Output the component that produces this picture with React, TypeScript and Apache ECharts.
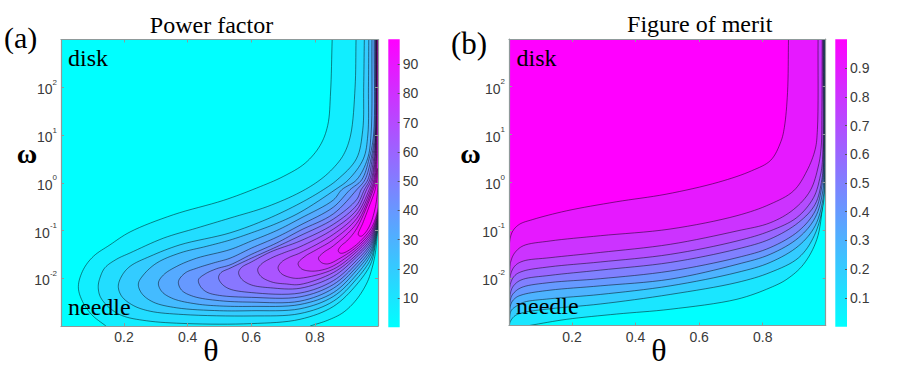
import React, { useEffect, useRef } from "react";
import * as echarts from "echarts";

// contour lines: [theta, log10(omega)]
const pf01Main = [[.143,-3],[.098,-2.76],[.067,-2.45],[.0565,-2.17],[.072,-1.82],[.104,-1.54],[.156,-1.30],[.219,-1.03],[.355,-.67],[.512,-.37],[.617,-.11],[.70,.13],[.769,.41],[.816,.78],[.84,1.2],[.849,1.9],[.854,3]];
const pf01Right = [[.9992,3],[.9992,-.3],[.9978,-.9],[.995,-1.15],[.989,-1.5],[.978,-1.82],[.963,-2.1],[.93,-2.45],[.888,-2.72],[.84,-2.88],[.785,-3]];
const pf02 = [[.9992,3],[.9992,-.3],[.9975,-.85],[.99,-1.28],[.975,-1.70],[.93,-2.14],[.858,-2.59],[.753,-2.86],[.6,-2.95],[.4,-2.95],[.27,-2.89],[.193,-2.78],[.151,-2.6],[.125,-2.38],[.119,-2.17],[.125,-1.98],[.14,-1.78],[.177,-1.6],[.219,-1.47],[.324,-1.16],[.428,-.95],[.533,-.74],[.65,-.5],[.753,-.2],[.816,.06],[.858,.31],[.89,.59],[.912,1],[.926,2],[.929,3]];
const pf03 = [[.9992,3],[.9992,-.3],[.9975,-.825],[.99,-1.22],[.975,-1.60],[.93,-2.02],[.858,-2.48],[.753,-2.74],[.6,-2.79],[.386,-2.76],[.282,-2.69],[.229,-2.57],[.193,-2.38],[.182,-2.17],[.193,-1.95],[.219,-1.75],[.282,-1.54],[.376,-1.3],[.533,-1.05],[.65,-.76],[.753,-.43],[.826,-.147],[.87,.063],[.93,.5],[.95,1.1],[.953,2],[.955,3]];
const pf04 = [[.9992,3],[.9992,-.3],[.9975,-.80],[.99,-1.17],[.975,-1.51],[.93,-1.93],[.858,-2.38],[.753,-2.64],[.6,-2.68],[.5,-2.68],[.366,-2.62],[.292,-2.50],[.256,-2.32],[.245,-2.12],[.261,-1.93],[.303,-1.68],[.376,-1.47],[.46,-1.33],[.533,-1.2],[.6,-1.05],[.68,-.85],[.753,-.62],[.863,-.147],[.905,.063],[.952,.5],[.966,1],[.968,2],[.969,3]];
const pf05 = [[.9992,3],[.9992,-.3],[.9975,-.775],[.99,-1.13],[.975,-1.45],[.93,-1.84],[.858,-2.30],[.753,-2.55],[.6,-2.59],[.5,-2.58],[.429,-2.54],[.355,-2.43],[.319,-2.28],[.308,-2.1],[.324,-1.93],[.366,-1.75],[.428,-1.58],[.533,-1.4],[.6,-1.22],[.68,-1.0],[.753,-.75],[.858,-.36],[.884,-.147],[.931,.063],[.965,.5],[.976,1],[.979,3]];
const pf06 = [[.9992,3],[.9992,-.3],[.9975,-.75],[.99,-1.09],[.975,-1.39],[.93,-1.77],[.858,-2.21],[.753,-2.48],[.6,-2.5],[.5,-2.47],[.418,-2.38],[.381,-2.25],[.371,-2.07],[.392,-1.89],[.428,-1.79],[.481,-1.68],[.533,-1.58],[.6,-1.37],[.68,-1.14],[.753,-.89],[.858,-.51],[.91,-.147],[.947,.063],[.97,.5],[.984,1],[.986,3]];
const pf07 = [[.9992,3],[.9992,-.3],[.9975,-.725],[.99,-1.05],[.975,-1.33],[.93,-1.70],[.858,-2.13],[.753,-2.39],[.6,-2.40],[.5,-2.36],[.46,-2.29],[.44,-2.17],[.434,-2.03],[.455,-1.91],[.491,-1.80],[.533,-1.72],[.6,-1.5],[.68,-1.26],[.753,-1.0],[.858,-.65],[.931,-.147],[.957,.063],[.976,.5],[.987,1],[.989,3]];
const pf08 = [[.9992,3],[.9992,-.3],[.9975,-.70],[.99,-1.01],[.975,-1.28],[.93,-1.63],[.858,-2.05],[.753,-2.31],[.6,-2.3],[.53,-2.22],[.505,-2.1],[.497,-1.98],[.505,-1.88],[.533,-1.79],[.6,-1.58],[.68,-1.34],[.753,-1.11],[.858,-.76],[.931,-.35],[.945,-.147],[.966,.063],[.98,.5],[.99,1],[.991,3]];
const pf09 = [[.9992,3],[.9992,-.3],[.9975,-.675],[.99,-.97],[.975,-1.23],[.93,-1.56],[.858,-1.96],[.753,-2.21],[.66,-2.2],[.6,-2.14],[.57,-2.02],[.56,-1.88],[.57,-1.77],[.6,-1.66],[.66,-1.45],[.753,-1.22],[.858,-.87],[.931,-.47],[.955,-.147],[.972,.063],[.984,.5],[.991,1],[.992,3]];
const pf10 = [[.9992,3],[.9992,-.3],[.9975,-.65],[.99,-.93],[.975,-1.18],[.93,-1.51],[.858,-1.88],[.753,-2.13],[.71,-2.12],[.665,-2.08],[.63,-1.96],[.62,-1.82],[.632,-1.70],[.665,-1.57],[.705,-1.46],[.753,-1.34],[.858,-.97],[.931,-.57],[.962,-.147],[.977,.063],[.987,.5],[.992,1],[.993,3]];
const pf11 = [[.9992,3],[.9992,-.3],[.9975,-.625],[.99,-.89],[.975,-1.13],[.93,-1.45],[.858,-1.81],[.753,-2.0],[.72,-1.98],[.694,-1.9],[.684,-1.78],[.695,-1.66],[.72,-1.56],[.753,-1.47],[.858,-1.08],[.931,-.66],[.97,-.147],[.981,.063],[.989,.5],[.9925,1],[.994,3]];
const pf12 = [[.9992,3],[.9992,-.3],[.9975,-.60],[.99,-.85],[.975,-1.08],[.93,-1.40],[.858,-1.74],[.82,-1.83],[.785,-1.85],[.757,-1.8],[.747,-1.69],[.769,-1.54],[.805,-1.40],[.858,-1.19],[.931,-.75],[.975,-.147],[.985,.063],[.991,.5],[.993,1],[.9945,3]];
const pf13 = [[.9992,3],[.9992,-.3],[.9975,-.575],[.99,-.81],[.975,-1.03],[.93,-1.35],[.879,-1.58],[.84,-1.7],[.82,-1.67],[.811,-1.58],[.825,-1.47],[.858,-1.32],[.931,-.85],[.979,-.147],[.988,.063],[.993,.5],[.994,1],[.995,3]];
const pf14 = [[.9992,3],[.9992,-.3],[.9975,-.55],[.99,-.75],[.975,-.97],[.93,-1.30],[.89,-1.47],[.878,-1.47],[.873,-1.42],[.882,-1.32],[.90,-1.22],[.931,-.96],[.983,-.147],[.991,.063],[.995,.5],[.9955,1],[.996,3]];
const pf15 = [[.9985,.3],[.9975,-.1],[.99,-.5],[.975,-.85],[.96,-1.03],[.945,-1.12],[.936,-1.09],[.95,-.85],[.97,-.5],[.989,-.147],[.994,.063],[.9965,.3]];

const fm01 = [[.0025,-3],[.003,-1.55],[.005,-1.20],[.014,-1.02],[.035,-.88],[.077,-.78],[.182,-.60],[.339,-.41],[.496,-.25],[.66,0],[.765,.24],[.825,.46],[.857,.85],[.868,1.15],[.878,1.88],[.881,3]];
const fm02 = [[.0025,-3],[.004,-1.9],[.008,-1.65],[.021,-1.47],[.047,-1.33],[.131,-1.23],[.289,-1.12],[.509,-.98],[.719,-.70],[.823,-.46],[.897,-.18],[.939,.24],[.965,.69],[.972,1.11],[.974,3]];
const fm03 = [[.003,-3],[.006,-1.96],[.021,-1.75],[.047,-1.65],[.131,-1.58],[.289,-1.47],[.509,-1.30],[.719,-1.02],[.823,-.85],[.897,-.57],[.949,-.18],[.975,.34],[.984,.76],[.986,1.5],[.987,3]];
const fm04 = [[.003,-3],[.006,-2.14],[.021,-1.95],[.047,-1.86],[.131,-1.77],[.289,-1.67],[.509,-1.51],[.719,-1.23],[.823,-1.02],[.907,-.74],[.96,-.32],[.981,.13],[.988,.48],[.989,3]];
const fm05 = [[.003,-3],[.008,-2.28],[.023,-2.12],[.047,-2.03],[.131,-1.95],[.289,-1.84],[.509,-1.68],[.719,-1.40],[.823,-1.19],[.913,-.84],[.965,-.46],[.986,.06],[.99,.41],[.991,3]];
const fm06 = [[.003,-3],[.008,-2.42],[.023,-2.28],[.047,-2.19],[.131,-2.10],[.289,-2.02],[.509,-1.86],[.719,-1.58],[.823,-1.37],[.913,-1.02],[.965,-.60],[.986,-.08],[.991,.34],[.992,3]];
const fm07 = [[.003,-3],[.008,-2.55],[.023,-2.42],[.047,-2.35],[.131,-2.26],[.289,-2.17],[.509,-2.03],[.719,-1.72],[.823,-1.51],[.913,-1.16],[.965,-.74],[.989,-.18],[.992,.31],[.993,3]];
const fm08 = [[.003,-3],[.008,-2.70],[.026,-2.59],[.05,-2.51],[.131,-2.44],[.289,-2.35],[.509,-2.17],[.719,-1.89],[.823,-1.68],[.913,-1.33],[.965,-.91],[.991,-.29],[.993,.2],[.994,3]];
const fm09 = [[.003,-3],[.006,-2.92],[.02,-2.8],[.047,-2.73],[.131,-2.65],[.289,-2.55],[.509,-2.35],[.719,-2.10],[.823,-1.89],[.913,-1.58],[.962,-1.12],[.991,-.43],[.994,.06],[.995,3]];
const fm10 = [[.066,-3],[.184,-2.87],[.341,-2.76],[.509,-2.66],[.719,-2.45],[.823,-2.21],[.876,-2.03],[.928,-1.72],[.97,-1.2],[.989,-.43],[.996,.41],[.9965,3]];
const fmCorners = [[0,3],[0,-3]];

const powerContours = [[pf01Main, pf01Right],[pf02],[pf03],[pf04],[pf05],[pf06],[pf07],[pf08],[pf09],[pf10],[pf11],[pf12],[pf13],[pf14],[pf15]];
const powerShades = [.067,.133,.2,.267,.333,.4,.467,.533,.6,.667,.733,.8,.867,.933,1];
// painted from the lowest level (the cyan side) up to the highest
const meritContours = [[fm10],[fm09],[fm08],[fm07],[fm06],[fm05],[fm04],[fm03],[fm02],[fm01]];
const meritShades = [.1,.2,.3,.4,.5,.6,.7,.8,.9,1];

const thetaTicks = [.2,.4,.6,.8];
const powerBarTop = 98.5;
const meritBarTop = 1;

const cool = (t: number) => `rgb(${Math.round(255 * t)},${Math.round(255 * (1 - t))},255)`;
const SANS = '"Liberation Sans", Arial, sans-serif';
const SERIF = '"Liberation Serif", "Times New Roman", serif';
const FRAME = "#8f9a9a";
const INK = "#3a3a3a";

type P = number[];
function spline(pts: P[]): P[] {
  if (pts.length < 3) return pts;
  const out: P[] = [pts[0]];
  const n = pts.length;
  const dist = (a: P, b: P) => Math.max(Math.sqrt(Math.hypot(a[0] - b[0], a[1] - b[1])), 1e-3);
  for (let i = 0; i < n - 1; i++) {
    const p1 = pts[i], p2 = pts[i + 1];
    const p0 = i > 0 ? pts[i - 1] : [2 * p1[0] - p2[0], 2 * p1[1] - p2[1]];
    const p3 = i < n - 2 ? pts[i + 2] : [2 * p2[0] - p1[0], 2 * p2[1] - p1[1]];
    const t1 = dist(p0, p1), t2 = t1 + dist(p1, p2), t3 = t2 + dist(p2, p3);
    const mix = (a: P, b: P, ta: number, tb: number, t: number) => {
      const w = (t - ta) / (tb - ta);
      return [a[0] + (b[0] - a[0]) * w, a[1] + (b[1] - a[1]) * w];
    };
    for (let s = 1; s <= 8; s++) {
      const t = t1 + ((t2 - t1) * s) / 8;
      const a1 = mix(p0, p1, 0, t1, t);
      const a2 = mix(p1, p2, t1, t2, t);
      const a3 = mix(p2, p3, t2, t3, t);
      const b1 = mix(a1, a2, 0, t2, t);
      const b2 = mix(a2, a3, t1, t3, t);
      out.push(mix(b1, b2, t1, t2, t));
    }
  }
  return out;
}

const omega = (pt: number[]) => [pt[0], Math.pow(10, pt[1])];

function contourSeries(segments: number[][][], shade: number, axis: number, corners: number[][]) {
  return {
    type: "custom",
    xAxisIndex: axis,
    yAxisIndex: axis,
    clip: true,
    silent: true,
    encode: { x: 0, y: 1 },
    data: segments.flat().map(omega),
    renderItem: (params: any, api: any) => {
      if (params.dataIndex !== 0) return null;
      const lines = segments.map((seg) => spline(seg.map((pt) => api.coord(omega(pt)))));
      const ring = lines.flat().concat(corners.map((pt) => api.coord(omega(pt))));
      return {
        type: "group",
        children: [
          { type: "polygon", shape: { points: ring }, style: { fill: cool(shade), stroke: "none" } },
          ...lines.map((l) => ({
            type: "polyline",
            shape: { points: l },
            style: { fill: "none", stroke: "rgba(0,0,0,0.48)", lineWidth: 1 },
          })),
        ],
      };
    },
  };
}

const tickStyle = { lineStyle: { color: FRAME, width: 1 } };
function thetaAxis(grid: number, position: string, labelled: boolean) {
  return {
    type: "value", gridIndex: grid, position, min: 0.002, max: 0.998, z: 5,
    splitLine: { show: false },
    axisLine: { show: true, onZero: false, lineStyle: { color: FRAME, width: 1.2 } },
    axisTick: { show: true, inside: true, length: 3, customValues: thetaTicks, ...tickStyle },
    axisLabel: labelled
      ? { show: true, customValues: thetaTicks, margin: 4, color: INK, fontFamily: SANS, fontSize: 14, formatter: (v: number) => v.toFixed(1) }
      : { show: false },
  };
}
function omegaAxis(grid: number, position: string, labelled: boolean) {
  return {
    type: "log", logBase: 10, gridIndex: grid, position, min: 0.001, max: 1000, z: 5,
    splitLine: { show: false },
    minorTick: { show: false },
    axisLine: { show: true, onZero: false, lineStyle: { color: FRAME, width: 1.2 } },
    axisTick: { show: true, inside: true, length: 3, ...tickStyle },
    axisLabel: labelled
      ? {
          show: true, margin: 4, color: INK, fontFamily: SANS,
          formatter: (v: number) => {
            const n = Math.round(Math.log10(v));
            return Math.abs(n) >= 3 ? "" : `{b|10}{s|${n}}`;
          },
          rich: {
            b: { fontSize: 14, color: INK, fontFamily: SANS, lineHeight: 18, verticalAlign: "bottom" },
            s: { fontSize: 8, color: INK, fontFamily: SANS, lineHeight: 18, verticalAlign: "top" },
          },
        }
      : { show: false },
  };
}
function barAxisY(grid: number, top: number, step: number, digits: number) {
  return {
    type: "value", gridIndex: grid, position: "right", min: 0, max: top, interval: step, z: 5,
    splitLine: { show: false },
    axisLine: { show: false },
    axisTick: { show: true, inside: true, length: 2, lineStyle: { color: "#555", width: 1 } },
    axisLabel: {
      show: true, margin: 3, color: INK, fontFamily: SANS, fontSize: 14,
      showMinLabel: false, showMaxLabel: false,
      formatter: (v: number) => (v === 0 || v >= top ? "" : v.toFixed(digits)),
    },
  };
}
function colorBar(name: string, axis: number, top: number) {
  return {
    type: "bar", name, xAxisIndex: axis, yAxisIndex: axis, barWidth: "100%", silent: true,
    data: [top],
    itemStyle: {
      color: new echarts.graphic.LinearGradient(0, 0, 0, 1, [
        { offset: 0, color: cool(1) },
        { offset: 1, color: cool(0) },
      ]),
    },
  };
}
const serifText = (text: string, x: number, y: number, size: number, align = "left", weight = "normal") => ({
  type: "text", silent: true, z: 20,
  style: { text, x, y, fill: "#000", textAlign: align, textVerticalAlign: "bottom", font: `${weight} ${size}px ${SERIF}` },
});

export default function App() {
  const ref = useRef<HTMLDivElement>(null);
  useEffect(() => {
    document.body.style.margin = "0";
    const chart = echarts.init(ref.current!, undefined, { renderer: "svg" });
    chart.setOption({
      animation: false,
      backgroundColor: "#fff",
      grid: [
        { left: 61, top: 39.5, width: 317, height: 286.5, show: true, backgroundColor: cool(0), borderWidth: 0 },
        { left: 509, top: 39, width: 316.7, height: 286.5, show: true, backgroundColor: cool(0), borderWidth: 0 },
        { left: 388.3, top: 39.3, width: 11.4, height: 288 },
        { left: 835.3, top: 39.3, width: 11.7, height: 287.4 },
      ],
      xAxis: [
        thetaAxis(0, "bottom", true),
        thetaAxis(0, "top", false),
        thetaAxis(1, "bottom", true),
        thetaAxis(1, "top", false),
        { type: "category", gridIndex: 2, data: ["scale"], show: false },
        { type: "category", gridIndex: 3, data: ["scale"], show: false },
      ],
      yAxis: [
        omegaAxis(0, "left", true),
        omegaAxis(0, "right", false),
        omegaAxis(1, "left", true),
        omegaAxis(1, "right", false),
        barAxisY(2, powerBarTop, 10, 0),
        barAxisY(3, meritBarTop, 0.1, 1),
      ],
      series: [
        ...powerContours.map((c, i) => contourSeries(c, powerShades[i], 0, [])),
        ...meritContours.map((c, i) => contourSeries(c, meritShades[i], 2, fmCorners)),
        colorBar("Power factor", 4, powerBarTop),
        colorBar("Figure of merit", 5, meritBarTop),
      ],
      graphic: [
        serifText("Power factor", 211.5, 37, 24, "center"),
        serifText("Figure of merit", 699.7, 36, 24, "center"),
        serifText("(a)", 4, 52, 30),
        serifText("(b)", 451, 59, 31),
        serifText("disk", 68, 70, 24),
        serifText("needle", 68, 319, 24),
        serifText("disk", 516.5, 70, 24),
        serifText("needle", 516, 318, 24),
        serifText("\u03b8", 211, 366, 32, "center"),
        serifText("\u03b8", 659, 366, 32, "center"),
        serifText("\u03c9", 27, 167, 28, "center", "bold"),
        serifText("\u03c9", 470.5, 167, 28, "center", "bold"),
      ],
    });
    return () => chart.dispose();
  }, []);
  return <div ref={ref} style={{ width: 899, height: 374, position: "absolute", left: 0, top: 0 }} />;
}
